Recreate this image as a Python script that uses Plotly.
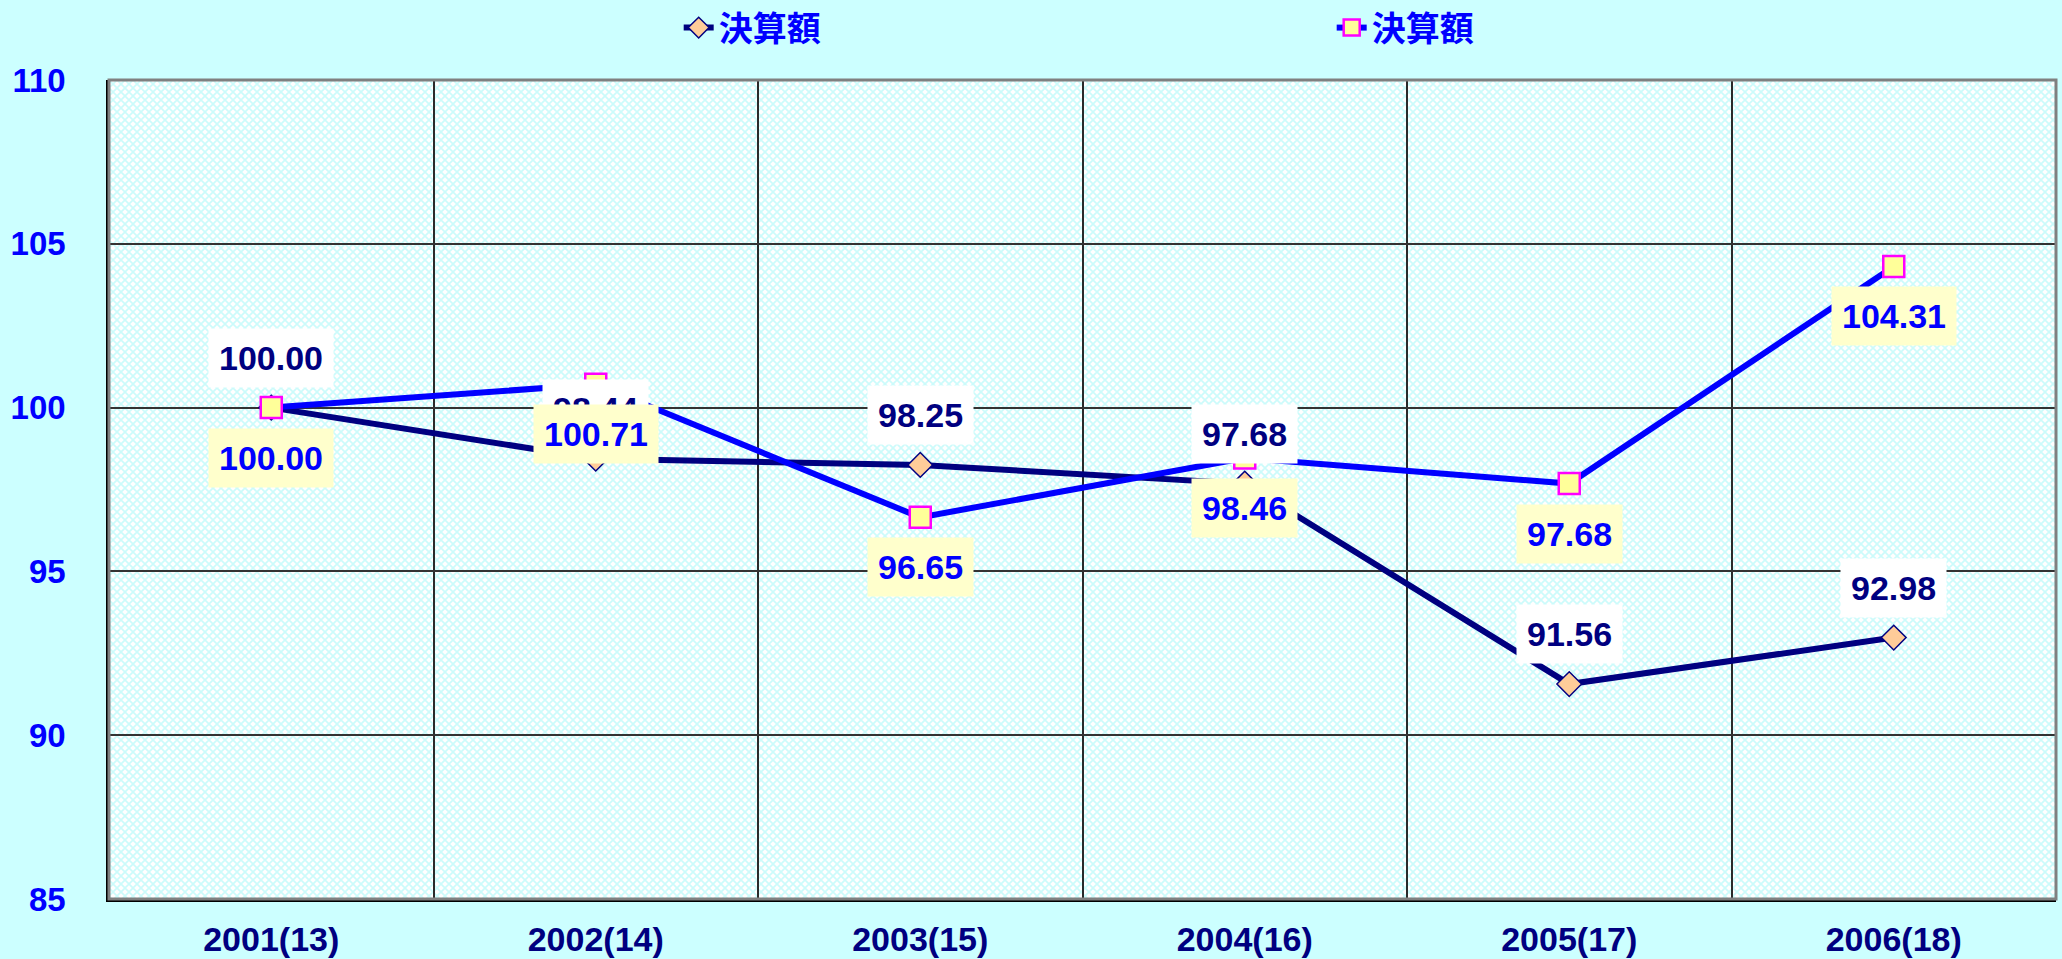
import base64
import plotly.graph_objects as go

categories = ["2001(13)", "2002(14)", "2003(15)", "2004(16)", "2005(17)", "2006(18)"]
series1_name = "決算額"
series1_values = [100.00, 98.44, 98.25, 97.68, 91.56, 92.98]
series2_name = "決算額"
series2_values = [100.00, 100.71, 96.65, 98.46, 97.68, 104.31]
y_ticks = [85, 90, 95, 100, 105, 110]

NAVY = "#000080"
BLUE = "#0000FF"
FONT = "Arial, Liberation Sans, sans-serif"
CJK = "Noto Sans CJK JP, sans-serif"

fig = go.Figure()
fig.add_trace(go.Scatter(
    x=categories, y=series1_values, name=series1_name, mode="lines+markers",
    line=dict(color=NAVY, width=6),
    marker=dict(symbol="diamond", size=19, color="#FFCC99", line=dict(color=NAVY, width=1.5)),
))
fig.add_trace(go.Scatter(
    x=categories, y=series2_values, name=series2_name, mode="lines+markers",
    line=dict(color=BLUE, width=6),
    marker=dict(symbol="square", size=21, color="#FFFF99", line=dict(color="#FF00FF", width=2.5)),
))

annotations = []
for c, v in zip(categories, series1_values):
    annotations.append(dict(
        x=c, y=v, xref="x", yref="y", text=f"{v:.2f}", showarrow=False,
        yshift=50, bgcolor="#FFFFFF", borderpad=10,
        font=dict(family=FONT, size=34, color=NAVY, weight="bold"),
    ))
for c, v in zip(categories, series2_values):
    annotations.append(dict(
        x=c, y=v, xref="x", yref="y", text=f"{v:.2f}", showarrow=False,
        yshift=-50, bgcolor="#FFFFCC", borderpad=10,
        font=dict(family=FONT, size=34, color=BLUE, weight="bold"),
    ))

# hatch texture for the plot background
svg = (
    '<svg xmlns="http://www.w3.org/2000/svg" width="1947" height="819" '
    'preserveAspectRatio="none">'
    '<defs><pattern id="p" width="8" height="8" patternUnits="userSpaceOnUse">'
    '<rect width="8" height="8" fill="#FFFFFF"/>'
    '<path d="M0,0 L8,8 M8,0 L0,8" stroke="#CCFBFB" stroke-width="1.7"/>'
    '</pattern></defs>'
    '<rect width="1947" height="819" fill="url(#p)"/></svg>'
)
src = "data:image/svg+xml;base64," + base64.b64encode(svg.encode()).decode()

fig.update_layout(
    width=2062, height=959,
    margin=dict(l=109, r=6, t=80, b=60, autoexpand=False),
    paper_bgcolor="#CCFFFF",
    plot_bgcolor="#EEFEFE",
    images=[dict(source=src, xref="paper", yref="paper", x=0, y=1, sizex=1, sizey=1,
                 sizing="stretch", layer="below", xanchor="left", yanchor="top")],
    showlegend=True,
    legend=dict(
        orientation="h", x=0.2926, xanchor="left", y=1.0635, yanchor="middle",
        font=dict(family=CJK, size=34, color=BLUE, weight="bold"),
        bgcolor="rgba(0,0,0,0)", entrywidth=608, entrywidthmode="pixels",
    ),
    annotations=annotations,
    shapes=[dict(type="rect", xref="paper", yref="paper", x0=0, x1=1, y0=0, y1=1,
                 line=dict(color="#808080", width=3), layer="above")],
)
fig.update_xaxes(
    type="category", categoryorder="array", categoryarray=categories,
    range=[-0.5, 5.5], tickson="boundaries", showgrid=True,
    gridcolor="#2A2A2A", gridwidth=1.5, ticks="",
    showline=True, linecolor="#000000", linewidth=2.5,
    tickfont=dict(family=FONT, size=34, color=NAVY, weight="bold"),
    ticklabelstandoff=8, automargin=False,
)
fig.update_yaxes(
    range=[85, 110], tickvals=y_ticks, ticktext=[str(t) for t in y_ticks],
    showgrid=True, gridcolor="#333333", gridwidth=1.5, zeroline=False,
    showline=True, linecolor="#000000", linewidth=2.5, ticks="",
    tickfont=dict(family=FONT, size=33, color=BLUE, weight="bold"),
    ticklabelstandoff=34, automargin=False,
)

fig.write_html(
    "out.html",
    config={"displayModeBar": False},
    post_script="document.body.style.margin='0';document.body.style.overflow='hidden';",
)
